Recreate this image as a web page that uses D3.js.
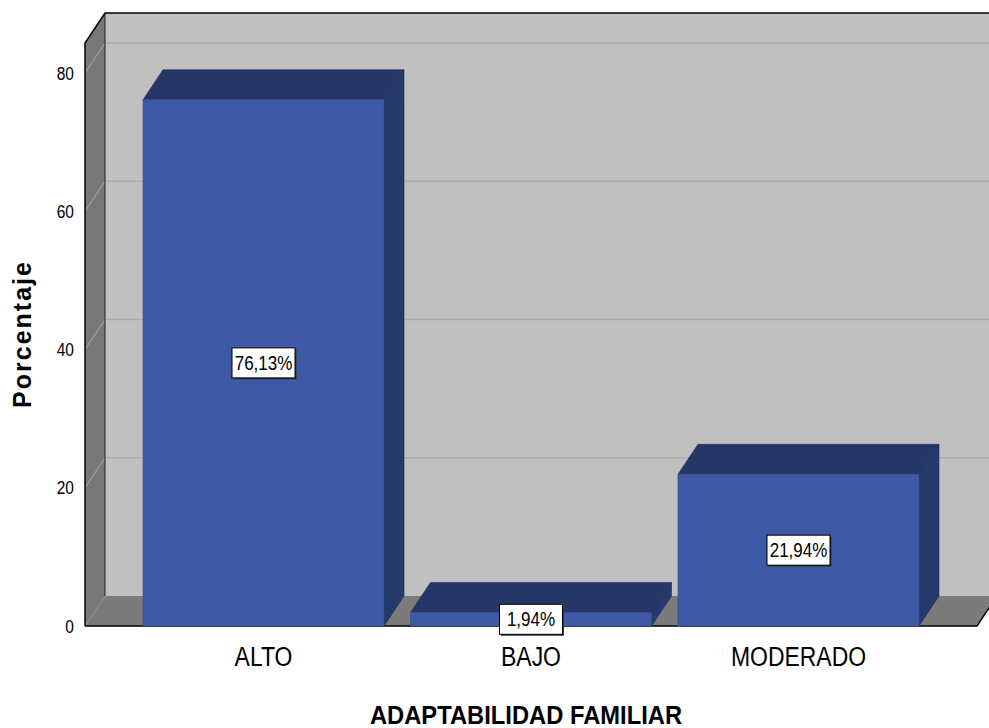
<!DOCTYPE html>
<html>
<head>
<meta charset="utf-8">
<script src="https://cdn.jsdelivr.net/npm/d3@7"></script>
<style>
  body { margin: 0; background: #fff; }
  text { font-family: "Liberation Sans", Arial, sans-serif; fill: #000; }
</style>
</head>
<body>
<svg id="chart" width="989" height="728"></svg>
<script>
// data
var categories = ['ALTO', 'BAJO', 'MODERADO'];
var percents = [76.13, 1.94, 21.94];
var valueLabels = ['76,13%', '1,94%', '21,94%'];
var yTicks = [0, 20, 40, 60, 80];
var yTitle = 'Porcentaje';
var xTitle = 'ADAPTABILIDAD FAMILIAR';

(function() {
    var svg = d3.select('#chart'),
        depthX = 20,
        depthY = -30,
        plotLeft = 85,
        plotRight = 977,
        plotBottom = 626,
        plotTop = 43;

    var x = d3.scaleBand()
        .domain(categories)
        .range([plotLeft, plotRight])
        .paddingInner(0.099)
        .paddingOuter(0.2168);

    var y = d3.scaleLinear()
        .domain([0, 84.34])
        .range([plotBottom, plotTop]);

    function poly(pts) {
        return 'M' + pts.map(function(p) { return p[0] + ',' + p[1]; }).join('L') + 'Z';
    }

    // text squeezed horizontally, like the SPSS output
    function squeezed(g, txt, px, py, size, sx, anchor, weight) {
        return g.append('text')
            .attr('transform', 'translate(' + px + ',' + py + ') scale(' + sx + ',1)')
            .attr('text-anchor', anchor || 'middle')
            .style('font-size', size + 'px')
            .style('font-weight', weight || 'normal')
            .text(txt);
    }

    // back wall
    svg.append('rect')
        .attr('x', plotLeft + depthX)
        .attr('y', plotTop + depthY)
        .attr('width', 989 - plotLeft - depthX + 10)
        .attr('height', plotBottom - plotTop)
        .attr('fill', '#c0c0c0');

    // left wall
    svg.append('path')
        .attr('d', poly([[plotLeft, plotTop], [plotLeft + depthX, plotTop + depthY],
            [plotLeft + depthX, plotBottom + depthY], [plotLeft, plotBottom]]))
        .attr('fill', '#787878');

    // floor
    svg.append('path')
        .attr('d', poly([[plotLeft, plotBottom], [plotLeft + depthX, plotBottom + depthY],
            [plotRight + depthX, plotBottom + depthY], [plotRight, plotBottom]]))
        .attr('fill', '#7b7b7b');

    // gridlines
    var grid = svg.append('g');
    yTicks.filter(function(d) { return d > 0; }).forEach(function(d) {
        grid.append('line')
            .attr('x1', plotLeft + depthX).attr('x2', 995)
            .attr('y1', y(d) + depthY).attr('y2', y(d) + depthY)
            .attr('stroke', '#ababab')
            .attr('stroke-width', 1.5);
        grid.append('line')
            .attr('x1', plotLeft).attr('x2', plotLeft + depthX)
            .attr('y1', y(d)).attr('y2', y(d) + depthY)
            .attr('stroke', '#a8a8a8')
            .attr('stroke-width', 1);
    });

    // frame edges
    var edges = svg.append('g')
        .attr('fill', 'none')
        .attr('stroke', '#000')
        .attr('stroke-width', 1.5);
    edges.append('path')
        .attr('d', 'M' + plotLeft + ',' + plotBottom + 'L' + plotLeft + ',' + plotTop +
            'L' + (plotLeft + depthX) + ',' + (plotTop + depthY) + 'L995,' + (plotTop + depthY));
    edges.append('path')
        .attr('d', 'M' + (plotLeft + depthX) + ',' + (plotTop + depthY) +
            'L' + (plotLeft + depthX) + ',' + (plotBottom + depthY))
        .attr('stroke', '#222')
        .attr('stroke-width', 1);
    edges.append('path')
        .attr('d', 'M' + plotLeft + ',' + plotBottom + 'L' + plotRight + ',' + plotBottom +
            'L' + (plotRight + depthX) + ',' + (plotBottom + depthY));

    // bars
    var bars = svg.selectAll('.bar')
        .data(categories)
        .enter()
        .append('g')
        .attr('class', 'bar');

    bars.each(function(c, i) {
        var g = d3.select(this),
            x0 = x(c),
            x1 = x(c) + x.bandwidth(),
            yt = y(percents[i]);

        g.append('path')
            .attr('d', poly([[x0, yt], [x0 + depthX, yt + depthY], [x1 + depthX, yt + depthY], [x1, yt]]))
            .attr('fill', '#263767')
            .attr('stroke', '#1e2d58')
            .attr('stroke-width', 0.6);

        g.append('path')
            .attr('d', poly([[x1, yt], [x1 + depthX, yt + depthY],
                [x1 + depthX, plotBottom + depthY], [x1, plotBottom]]))
            .attr('fill', '#26396b')
            .attr('stroke', '#1e2d58')
            .attr('stroke-width', 0.6);

        g.append('rect')
            .attr('x', x0)
            .attr('y', yt)
            .attr('width', x.bandwidth())
            .attr('height', plotBottom - yt)
            .attr('fill', '#3e5aa7')
            .attr('stroke', '#344d92')
            .attr('stroke-width', 0.6);
    });

    // value labels
    bars.each(function(c, i) {
        var g = d3.select(this),
            cx = x(c) + x.bandwidth() / 2,
            cy = (y(percents[i]) + plotBottom) / 2,
            w = 63,
            h = 30;

        g.append('rect')
            .attr('x', cx - w / 2 + 1.5)
            .attr('y', cy - h / 2 + 1.5)
            .attr('width', w)
            .attr('height', h)
            .attr('fill', '#333');

        g.append('rect')
            .attr('x', cx - w / 2)
            .attr('y', cy - h / 2)
            .attr('width', w)
            .attr('height', h)
            .attr('fill', '#fff')
            .attr('stroke', '#000')
            .attr('stroke-width', 1);

        squeezed(g, valueLabels[i], cx, cy + 7, 20, 0.85);
    });

    // y tick labels
    var ticks = svg.append('g');
    yTicks.forEach(function(d) {
        squeezed(ticks, d, 74, y(d) + 6.5, 18.5, 0.84, 'end');
    });

    // category labels
    var cats = svg.append('g');
    categories.forEach(function(c) {
        squeezed(cats, c, x(c) + x.bandwidth() / 2, 666, 27, 0.85);
    });

    // axis titles
    squeezed(svg, xTitle, 526, 724, 25, 0.95, 'middle', 'bold');

    svg.append('text')
        .attr('transform', 'translate(31,334) rotate(-90)')
        .attr('text-anchor', 'middle')
        .style('font-size', '25px')
        .style('font-weight', 'bold')
        .style('letter-spacing', '2px')
        .text(yTitle);
})();
</script>
</body>
</html>
